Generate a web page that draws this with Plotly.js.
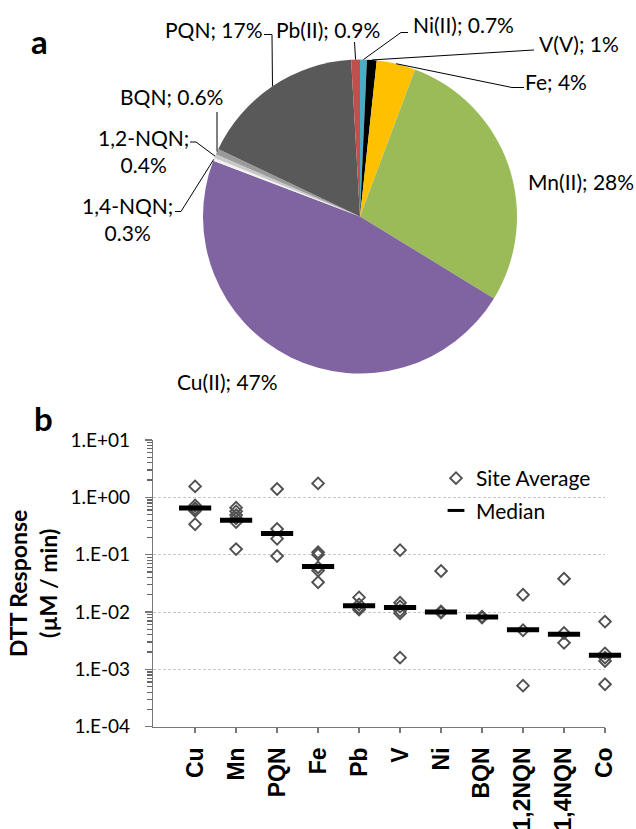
<!DOCTYPE html>
<html><head><meta charset="utf-8">
<script src="https://cdn.plot.ly/plotly-3.0.1.min.js"></script>
<style>html,body{margin:0;padding:0;background:#fff}</style>
</head><body>
<div id="chart" style="width:636px;height:829px"></div>
<script>
// ---------- Data: panel a (pie) ----------
const pieNames  = ['Ni(II)', 'V(V)', 'Fe', 'Mn(II)', 'Cu(II)', '1,4-NQN', '1,2-NQN', 'BQN', 'PQN', 'Pb(II)'];
const pieValues = [0.7, 1, 4, 28, 47, 0.3, 0.4, 0.6, 17, 0.9];
const pieColors = ['#4bacc6', '#000000', '#ffc000', '#9bbb59', '#8064a2', '#f2f2f2', '#c8c8c8', '#9a9a9a', '#595959', '#c0504d'];

// ---------- Data: panel b (DTT response) ----------
const categories = ['Cu', 'Mn', 'PQN', 'Fe', 'Pb', 'V', 'Ni', 'BQN', '1,2NQN', '1,4NQN', 'Co'];
const siteCu    = [1.55, 0.72, 0.64, 0.58, 0.34];
const siteMn    = [0.66, 0.57, 0.49, 0.43, 0.37, 0.125];
const sitePQN   = [1.40, 0.28, 0.19, 0.095];
const siteFe    = [1.75, 0.11, 0.10, 0.060, 0.053, 0.033];
const sitePb    = [0.018, 0.0135, 0.0118, 0.011];
const siteV     = [0.12, 0.0145, 0.0125, 0.0105, 0.0095, 0.0016];
const siteNi    = [0.052, 0.0102, 0.0098];
const siteBQN   = [0.0083, 0.0080];
const site12NQN = [0.020, 0.0048, 0.00052];
const site14NQN = [0.038, 0.0043, 0.0029];
const siteCo    = [0.0068, 0.0019, 0.0016, 0.0014, 0.00055];
const medians   = [0.65, 0.40, 0.235, 0.062, 0.0128, 0.012, 0.0100, 0.0082, 0.0049, 0.0041, 0.00177];
const yTickVals = [1e-4, 1e-3, 1e-2, 1e-1, 1, 10];
const yTickText = ['1.E-04', '1.E-03', '1.E-02', '1.E-01', '1.E+00', '1.E+01'];

// ---------- layout helpers (pixel -> paper) ----------
const W = 636, H = 829;
const px = x => x / W;
const py = y => 1 - y / H;
const FONT = 'Lato, "Open Sans", sans-serif';

// pie geometry (pixels)
const pieBox = {x0: 203, x1: 517, y0: 59.5, y1: 373.5};
const cx = (pieBox.x0 + pieBox.x1) / 2, cy = (pieBox.y0 + pieBox.y1) / 2;
const R = Math.min(pieBox.x1 - pieBox.x0, pieBox.y1 - pieBox.y0) / 2;

const total = pieValues.reduce((a, b) => a + b, 0);
const midPoint = [];
let cum = 0;
pieValues.forEach(v => {
  const th = 2 * Math.PI * (cum + v / 2) / total;
  midPoint.push([cx + R * Math.sin(th), cy - R * Math.cos(th)]);
  cum += v;
});

// label placement (pixel centres) and leader-line start points
const labelPlace = {
  'Ni(II)':  {x: 463, y: 25,   lead: [[408, 32.5], [401, 32.5]]},
  'V(V)':    {x: 579, y: 43.5, lead: [[534, 50]]},
  'Fe':      {x: 556, y: 81.5, lead: [[524, 87.5], [512, 87.5]]},
  'Mn(II)':  {x: 581, y: 181.5, lead: null},
  'Cu(II)':  {x: 228, y: 381.5, lead: null},
  '1,4-NQN': {x: 127.5, y: 219, lead: [[175, 211.5], [181, 211.5]], br: true},
  '1,2-NQN': {x: 143, y: 151, lead: [[190, 142], [196, 142]], br: true},
  'BQN':     {x: 171, y: 96.5, lead: [[217, 112]]},
  'PQN':     {x: 214, y: 29.5, lead: [[264, 34.5], [272, 34.5]]},
  'Pb(II)':  {x: 328, y: 29.5, lead: [[354.5, 42]]}
};

const annotations = [];
const shapes = [];
pieNames.forEach((n, i) => {
  const p = labelPlace[n];
  const txt = n + ';' + (p.br ? '<br>' : ' ') + pieValues[i] + '%';
  annotations.push({xref: 'paper', yref: 'paper', x: px(p.x), y: py(p.y), text: txt,
    showarrow: false, xanchor: 'center', yanchor: 'middle',
    font: {family: FONT, size: 21, color: '#000'}});
  if (p.lead) {
    const pts = p.lead.concat([midPoint[i]]);
    const d = pts.map((q, k) => (k ? 'L' : 'M') + px(q[0]).toFixed(5) + ',' + py(q[1]).toFixed(5)).join(' ');
    shapes.push({type: 'path', xref: 'paper', yref: 'paper', path: d,
      line: {color: '#000', width: 1}});
  }
});
annotations.push({xref: 'paper', yref: 'paper', x: px(39), y: py(41), text: '<b>a</b>',
  showarrow: false, xanchor: 'center', yanchor: 'middle', font: {family: FONT, size: 33, color: '#000'}});
annotations.push({xref: 'paper', yref: 'paper', x: px(43), y: py(418), text: '<b>b</b>',
  showarrow: false, xanchor: 'center', yanchor: 'middle', font: {family: FONT, size: 33, color: '#000'}});

// scatter traces
const siteLists = [siteCu, siteMn, sitePQN, siteFe, sitePb, siteV, siteNi, siteBQN, site12NQN, site14NQN, siteCo];
const sx = [], sy = [];
siteLists.forEach((arr, i) => arr.forEach(v => { sx.push(categories[i]); sy.push(v); }));

// tick label aliases: default log-axis labels -> Excel-style labels
const alias = {};
yTickVals.forEach((v, i) => { alias[String(v)] = yTickText[i]; });

const data = [
  {type: 'pie', labels: pieNames, values: pieValues, sort: false, direction: 'clockwise', rotation: 0,
   marker: {colors: pieColors, line: {width: 0}}, textinfo: 'none', hoverinfo: 'label+percent',
   showlegend: false,
   domain: {x: [px(pieBox.x0), px(pieBox.x1)], y: [py(pieBox.y1), py(pieBox.y0)]}},
  {type: 'scatter', mode: 'markers', x: sx, y: sy, name: 'Site Average', showlegend: true,
   legendgroup: 'g1', cliponaxis: false,
   marker: {symbol: 'diamond-open', size: 9, color: '#505050', line: {color: '#505050', width: 1.9}},
   xaxis: 'x', yaxis: 'y'},
  {type: 'scatter', mode: 'markers', x: categories, y: medians, name: 'Median', showlegend: false,
   cliponaxis: false,
   marker: {symbol: 'line-ew', size: 23, color: '#000', line: {color: '#000', width: 5}},
   xaxis: 'x', yaxis: 'y'},
  {type: 'scatter', mode: 'markers', x: [null], y: [null], name: 'Median', showlegend: true,
   legendgroup: 'g2',
   marker: {symbol: 'line-ew', size: 12, color: '#000', line: {color: '#000', width: 3}},
   xaxis: 'x', yaxis: 'y'}
];

const layout = {
  width: W, height: H,
  margin: {l: 0, r: 0, t: 0, b: 0},
  paper_bgcolor: '#fff', plot_bgcolor: '#fff',
  font: {family: FONT, color: '#000'},
  showlegend: true,
  legend: {x: px(436), y: py(458), xanchor: 'left', yanchor: 'top', bgcolor: 'rgba(0,0,0,0)',
    font: {family: FONT, size: 21, color: '#000'}, tracegroupgap: 2},
  xaxis: {domain: [px(153.3), px(605)], type: 'category', categoryorder: 'array', categoryarray: categories,
    range: [-1.02, 10], showline: true, linecolor: '#777777', linewidth: 1.5,
    ticks: 'outside', ticklen: 5, tickcolor: '#777777', tickwidth: 1.3, tickangle: -90, showgrid: false, zeroline: false,
    tickfont: {family: '"Liberation Sans", Arial, sans-serif', size: 23, color: '#000', weight: 'bold'},
    ticklabelstandoff: 5, fixedrange: true},
  yaxis: {domain: [py(726.7), py(440)], type: 'log', range: [-4, 1],
    tickmode: 'linear', tick0: 0, dtick: 1, exponentformat: 'none', labelalias: alias,
    showline: true, linecolor: '#777777', linewidth: 1.5,
    ticks: 'outside', ticklen: 7, tickcolor: '#777777', tickwidth: 1.3,
    minor: {tickmode: 'linear', dtick: 'D1', ticks: 'outside', ticklen: 5, tickcolor: '#666666', tickwidth: 1.2, showgrid: false},
    showgrid: true, gridcolor: '#c8c8c8', griddash: '3px,2px', gridwidth: 1, zeroline: false,
    tickfont: {family: FONT, size: 19, color: '#000'}, ticklabelstandoff: 11,
    title: {text: '<b>DTT Response</b><br><b>(µM / min)</b>', font: {family: FONT, size: 23, color: '#000'}, standoff: 6},
    fixedrange: true},
  annotations: annotations,
  shapes: shapes
};

Plotly.newPlot('chart', data, layout, {displayModeBar: false, staticPlot: true});
</script>
</body></html>
